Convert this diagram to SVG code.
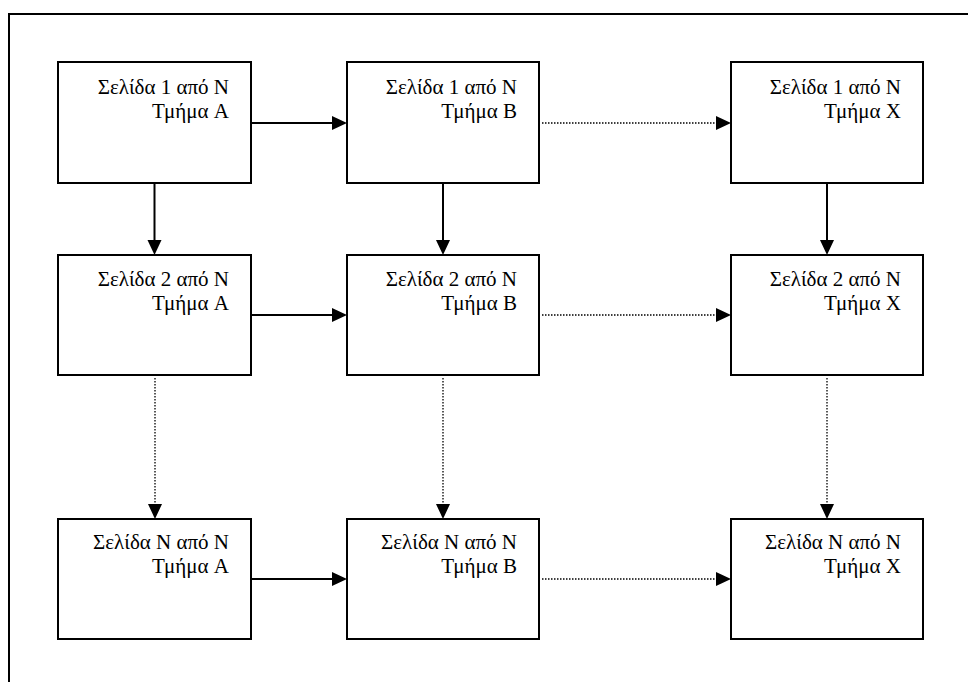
<svg xmlns="http://www.w3.org/2000/svg" width="968" height="682" viewBox="0 0 968 682">
<style>
.frame{fill:none;stroke:#000;stroke-width:2}
.box{fill:#fff;stroke:#000;stroke-width:2}
.solid{stroke:#000;stroke-width:2;fill:none}
.dot{stroke:#000;stroke-width:1.3;stroke-dasharray:1.5 1.5;fill:none}
</style>
<defs>
<marker id="ah" markerUnits="userSpaceOnUse" markerWidth="16" markerHeight="15" refX="7" refY="7" orient="auto">
<path d="M0,0 L15,7 L0,14 z" fill="#000"/>
</marker>
</defs>
<rect width="968" height="682" fill="#fff"/>
<rect class="frame" x="9" y="14" width="1000" height="700"/>
<g id="connectors">
<line class="solid" x1="251" y1="123" x2="339" y2="123" marker-end="url(#ah)"/>
<line class="dot" x1="542" y1="123" x2="723" y2="123" marker-end="url(#ah)"/>
<line class="solid" x1="154.5" y1="183" x2="154.5" y2="247" marker-end="url(#ah)"/>
<line class="solid" x1="443" y1="183" x2="443" y2="247" marker-end="url(#ah)"/>
<line class="solid" x1="827" y1="183" x2="827" y2="247" marker-end="url(#ah)"/>
<line class="solid" x1="251" y1="315" x2="339" y2="315" marker-end="url(#ah)"/>
<line class="dot" x1="542" y1="315" x2="723" y2="315" marker-end="url(#ah)"/>
<line class="dot" x1="155" y1="378" x2="155" y2="511" marker-end="url(#ah)"/>
<line class="dot" x1="443" y1="378" x2="443" y2="511" marker-end="url(#ah)"/>
<line class="dot" x1="827" y1="378" x2="827" y2="511" marker-end="url(#ah)"/>
<line class="solid" x1="251" y1="579" x2="339" y2="579" marker-end="url(#ah)"/>
<line class="dot" x1="542" y1="579" x2="723" y2="579" marker-end="url(#ah)"/>
</g>
<g font-family="Liberation Serif, DejaVu Serif, serif" font-size="21" fill="#000" text-anchor="end">
<g id="n1A"><rect class="box" x="58" y="62" width="193" height="121"/><text x="229" y="94">Σελίδα 1 από N</text><text x="229" y="118">Τμήμα A</text></g>
<g id="n1B"><rect class="box" x="347" y="62" width="192" height="121"/><text x="517" y="94">Σελίδα 1 από N</text><text x="517" y="118">Τμήμα B</text></g>
<g id="n1X"><rect class="box" x="731" y="62" width="192" height="121"/><text x="901" y="94">Σελίδα 1 από N</text><text x="901" y="118">Τμήμα X</text></g>
<g id="n2A"><rect class="box" x="58" y="255" width="193" height="120"/><text x="229" y="286">Σελίδα 2 από N</text><text x="229" y="310">Τμήμα A</text></g>
<g id="n2B"><rect class="box" x="347" y="255" width="192" height="120"/><text x="517" y="286">Σελίδα 2 από N</text><text x="517" y="310">Τμήμα B</text></g>
<g id="n2X"><rect class="box" x="731" y="255" width="192" height="120"/><text x="901" y="286">Σελίδα 2 από N</text><text x="901" y="310">Τμήμα X</text></g>
<g id="nNA"><rect class="box" x="58" y="519" width="193" height="120"/><text x="229" y="549">Σελίδα N από N</text><text x="229" y="573">Τμήμα A</text></g>
<g id="nNB"><rect class="box" x="347" y="519" width="192" height="120"/><text x="517" y="549">Σελίδα N από N</text><text x="517" y="573">Τμήμα B</text></g>
<g id="nNX"><rect class="box" x="731" y="519" width="192" height="120"/><text x="901" y="549">Σελίδα N από N</text><text x="901" y="573">Τμήμα X</text></g>
</g>
</svg>
